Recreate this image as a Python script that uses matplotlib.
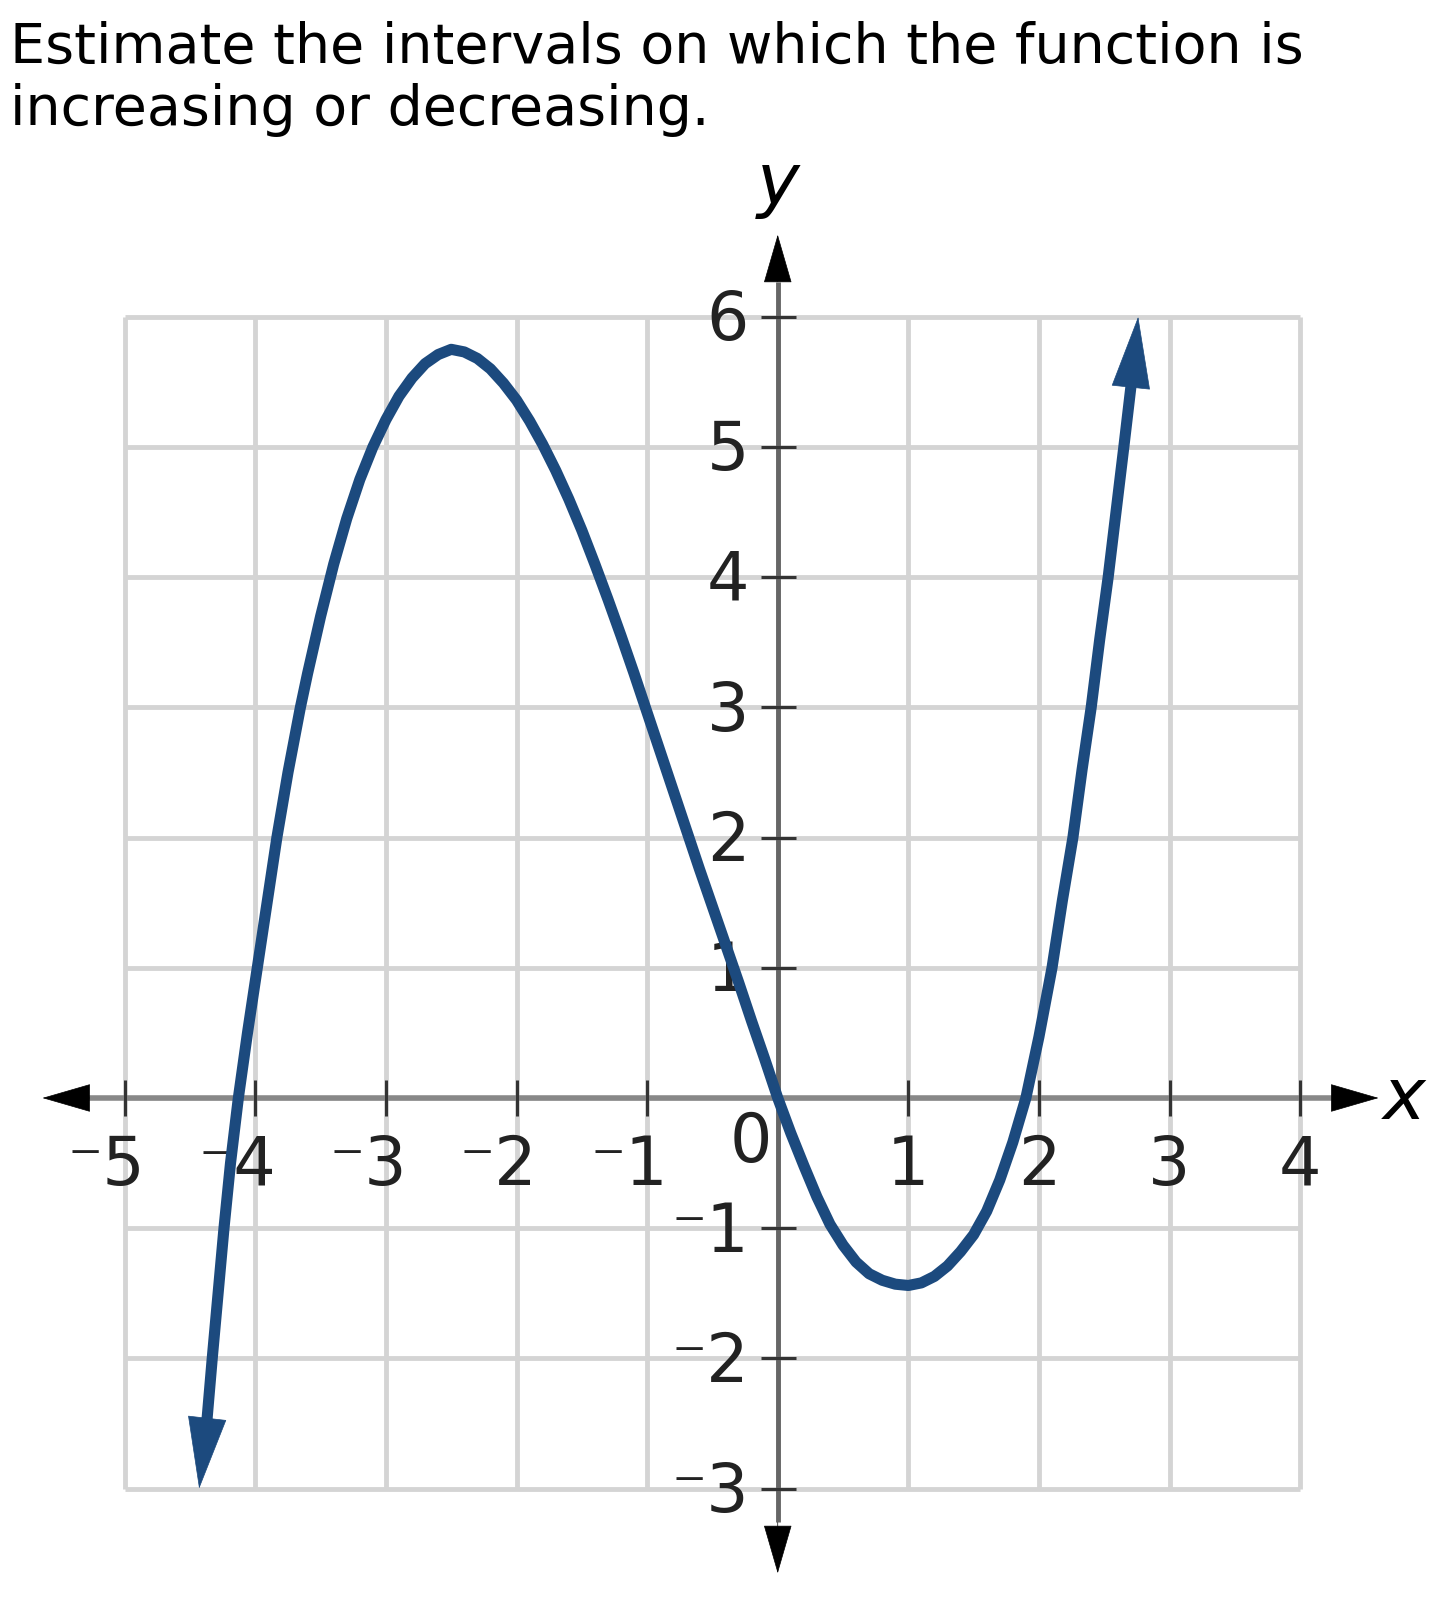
import matplotlib.pyplot as plt

# curve points; arrow tips kept apart
curve_x = [-4.37, -4.33, -4.285, -4.24, -4.19, -4.13, -4.06, -3.985, -3.91, -3.835,
           -3.75, -3.655, -3.60, -3.50, -3.40, -3.30, -3.20, -3.10, -3.00, -2.90,
           -2.80, -2.70, -2.60, -2.50, -2.40, -2.30, -2.20, -2.10, -2.00, -1.90,
           -1.80, -1.70, -1.60, -1.50, -1.40, -1.30, -1.20, -1.10, -1.00, -0.90,
           -0.80, -0.70, -0.60, -0.50, -0.40, -0.30, -0.20, -0.10, 0.00, 0.10,
           0.20, 0.30, 0.40, 0.50, 0.60, 0.70, 0.80, 0.90, 1.00, 1.10,
           1.20, 1.30, 1.40, 1.50, 1.60, 1.70, 1.80, 1.90, 2.00, 2.10,
           2.18, 2.26, 2.33, 2.40, 2.465, 2.53, 2.59, 2.65, 2.705]
curve_y = [-2.47, -2.00, -1.50, -1.00, -0.50, 0.00, 0.50, 1.00, 1.50, 2.00,
           2.50, 3.00, 3.26, 3.70, 4.10, 4.45, 4.75, 5.00, 5.21, 5.39,
           5.53, 5.64, 5.71, 5.75, 5.73, 5.68, 5.60, 5.49, 5.36, 5.20,
           5.02, 4.82, 4.60, 4.36, 4.10, 3.83, 3.55, 3.26, 2.96, 2.66,
           2.36, 2.06, 1.76, 1.47, 1.18, 0.89, 0.59, 0.30, 0.00, -0.27,
           -0.52, -0.76, -0.97, -1.13, -1.26, -1.35, -1.40, -1.43, -1.44, -1.42,
           -1.37, -1.29, -1.18, -1.05, -0.87, -0.63, -0.34, 0.00, 0.47, 1.00,
           1.52, 2.00, 2.52, 3.00, 3.52, 4.00, 4.50, 5.00, 5.47]
tip_low = (-4.43, -3.0)
tip_high = (2.76, 6.0)

x_ticks = [-5, -4, -3, -2, -1, 1, 2, 3, 4]
y_ticks = [-3, -2, -1, 1, 2, 3, 4, 5, 6]
grid_x = list(range(-5, 5))
grid_y = list(range(-3, 7))

title_lines = ["Estimate the intervals on which the function is",
               "increasing or decreasing."]

blue = '#1c4a7e'
grid_col = '#d4d4d4'

fig = plt.figure(figsize=(14.54, 16.02), dpi=100)
fig.text(10 / 1454, 1 - 63 / 1602, title_lines[0], fontsize=40, va='baseline')
fig.text(10 / 1454, 1 - 125 / 1602, title_lines[1], fontsize=40, va='baseline')

ax = fig.add_axes([0, 0, 1, 1])
ax.set_xlim(-5.955, 5.178)
ax.set_ylim(-3.871, 8.433)
ax.set_axis_off()

# grid
ax.vlines(grid_x, -3, 6, color=grid_col, lw=3.5, zorder=1)
ax.hlines(grid_y, -5, 4, color=grid_col, lw=3.5, zorder=1)

# axis lines with arrows
ax.plot([-5.27, 4.25], [0, 0], color='#888888', lw=4, zorder=2, solid_capstyle='butt')
ax.plot([0, 0], [-3.26, 6.27], color='#666666', lw=3.5, zorder=2, solid_capstyle='butt')
axis_arrow = dict(arrowstyle='-|>,head_length=1,head_width=0.29', mutation_scale=33,
                  color='black', lw=0.5, shrinkA=0, shrinkB=0)
ax.annotate('', xy=(4.60, 0), xytext=(4.25, 0), arrowprops=axis_arrow, zorder=3)
ax.annotate('', xy=(-5.63, 0), xytext=(-5.27, 0), arrowprops=axis_arrow, zorder=3)
ax.annotate('', xy=(0, 6.63), xytext=(0, 6.27), arrowprops=axis_arrow, zorder=3)
ax.annotate('', xy=(0, -3.65), xytext=(0, -3.26), arrowprops=axis_arrow, zorder=3)

# tick marks
ax.vlines(x_ticks, -0.14, 0.14, color='#333333', lw=2.2, zorder=3)
ax.hlines(y_ticks, -0.13, 0.14, color='#333333', lw=2.2, zorder=3)

# tick labels
lab_kw = dict(fontsize=48, color='#222222', va='baseline', zorder=3)
for v in x_ticks:
    if v < 0:
        ax.text(v + 0.16, -0.67, '\u207b' + str(-v), ha='right', **lab_kw)
    else:
        ax.text(v, -0.67, str(v), ha='center', **lab_kw)
for v in y_ticks:
    lab = '\u207b' + str(-v) if v < 0 else str(v)
    ax.text(-0.22, v - 0.18, lab, ha='right', **lab_kw)
ax.text(-0.21, -0.49, '0', ha='center', **lab_kw)

ax.text(4.80, -0.16, 'x', fontsize=52, style='italic', ha='center', va='baseline')
ax.text(0.0, 6.87, 'y', fontsize=52, style='italic', ha='center', va='baseline')

# the function
ax.plot(curve_x, curve_y, color=blue, lw=8, solid_joinstyle='round',
        solid_capstyle='butt', zorder=5)
curve_arrow = dict(arrowstyle='-|>,head_length=1,head_width=0.27', mutation_scale=50,
                   color=blue, lw=0.5, shrinkA=0, shrinkB=0)
ax.annotate('', xy=tip_low, xytext=(curve_x[0], curve_y[0]), arrowprops=curve_arrow, zorder=6)
ax.annotate('', xy=tip_high, xytext=(curve_x[-1], curve_y[-1]), arrowprops=curve_arrow, zorder=6)

plt.savefig('out.png', dpi=100)
